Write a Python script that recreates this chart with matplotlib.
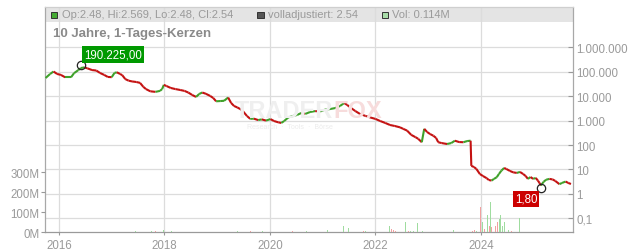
import numpy as np
import matplotlib
matplotlib.use("Agg")
import matplotlib.pyplot as plt
import matplotlib.dates as mdates
from matplotlib.collections import LineCollection
from matplotlib.patches import Rectangle
from matplotlib.ticker import FixedLocator, NullLocator, FixedFormatter

plt.rcParams['font.family'] = ['Liberation Sans', 'DejaVu Sans']

# ---------------- data ----------------
price_dates = [
    "2015-10-01", "2015-11-01", "2015-11-25", "2015-12-20", "2016-01-15", "2016-02-14",
    "2016-03-25", "2016-04-15", "2016-05-15", "2016-06-02", "2016-06-25", "2016-07-16",
    "2016-08-18", "2016-09-16", "2016-10-12", "2016-11-10", "2016-12-05", "2017-01-01",
    "2017-01-20", "2017-02-05", "2017-02-28", "2017-03-15", "2017-04-05", "2017-04-28",
    "2017-05-22", "2017-06-20", "2017-07-16", "2017-08-08", "2017-08-26", "2017-09-25",
    "2017-10-31", "2017-12-01", "2017-12-16", "2017-12-28", "2018-01-15", "2018-02-14",
    "2018-03-18", "2018-04-20", "2018-05-20", "2018-06-15", "2018-07-12", "2018-08-08",
    "2018-08-30", "2018-09-20", "2018-10-15", "2018-11-14", "2018-12-05", "2018-12-25",
    "2019-01-22", "2019-02-18", "2019-03-18", "2019-04-08", "2019-04-28", "2019-05-20",
    "2019-06-10", "2019-06-28", "2019-07-26", "2019-08-18", "2019-09-12", "2019-10-12",
    "2019-11-06", "2019-12-05", "2020-01-05", "2020-01-30", "2020-02-28", "2020-03-20",
    "2020-04-08", "2020-05-08", "2020-06-10", "2020-07-08", "2020-08-05", "2020-09-02",
    "2020-10-05", "2020-11-10", "2020-12-14", "2021-01-18", "2021-02-20", "2021-03-28",
    "2021-05-01", "2021-05-30", "2021-06-20", "2021-07-16", "2021-08-15", "2021-09-16",
    "2021-10-24", "2021-11-25", "2022-01-01", "2022-02-03", "2022-03-10", "2022-04-12",
    "2022-05-15", "2022-06-20", "2022-07-12", "2022-08-08", "2022-09-06", "2022-10-05",
    "2022-10-24", "2022-11-18", "2022-12-05", "2022-12-25", "2023-01-15", "2023-02-06",
    "2023-02-25", "2023-03-12", "2023-04-05", "2023-05-12", "2023-06-10", "2023-07-05",
    "2023-08-04", "2023-09-02", "2023-09-28", "2023-10-22", "2023-10-27", "2023-11-14",
    "2023-12-01", "2023-12-25", "2024-01-15", "2024-02-10", "2024-02-25", "2024-03-15",
    "2024-04-01", "2024-04-20", "2024-05-05", "2024-05-22", "2024-06-10", "2024-06-25",
    "2024-07-20", "2024-08-12", "2024-09-06", "2024-09-28", "2024-10-20", "2024-11-06",
    "2024-11-22", "2024-12-10", "2024-12-28", "2025-01-15", "2025-01-30", "2025-02-10",
    "2025-02-20", "2025-03-10", "2025-03-28", "2025-04-20", "2025-05-12", "2025-05-30",
    "2025-06-28", "2025-07-16", "2025-08-10", "2025-08-28", "2025-09-16",
]
price_close = [
    55300, 80700, 102000, 81000, 74000, 59000,
    59000, 87000, 117000, 142000, 150000, 138000,
    117000, 112000, 89000, 74000, 61000, 60000,
    89000, 95000, 81000, 72000, 50000, 43000,
    40000, 38000, 35000, 24000, 19500, 15800,
    15000, 16400, 19500, 29000, 26000, 21600,
    19500, 17900, 16400, 14100, 11200, 9300,
    12300, 14100, 12500, 10200, 8400, 6160,
    6300, 6450, 8800, 5250, 3960, 3470,
    2960, 2450, 1550, 1180, 1200, 1050,
    1120, 1000, 1150, 960, 850, 800,
    950, 1350, 1550, 1700, 2040, 1870,
    2240, 2450, 2350, 2820, 2960, 3250,
    3960, 5250, 4340, 3270, 2450, 1870,
    1550, 1350, 1170, 960, 800, 660,
    600, 530, 460, 390, 260, 210,
    180, 130, 460, 340, 280, 240,
    195, 130, 120, 110, 120, 150,
    132, 130, 145, 150, 14, 12.6,
    10.5, 6.5, 5.4, 4.4, 3.7, 3.5,
    4.1, 4.8, 6.5, 8.9, 11.5, 10.5,
    8.7, 7.6, 7.2, 7.9, 6.5, 5.4,
    4.1, 4.9, 4.1, 4.5, 3.5, 2.8,
    2.2, 3.1, 3.8, 4.1, 3.9, 3.4,
    2.5, 2.8, 3.2, 2.8, 2.54,
]

vol_dates = [
    "2017-06-13", "2017-09-09", "2017-10-05", "2017-10-31", "2017-11-24", "2017-12-24",
    "2018-02-17", "2019-05-22", "2019-07-19", "2019-08-03", "2019-08-18", "2019-11-10",
    "2020-06-06", "2020-07-20", "2020-08-11", "2020-09-09", "2021-02-02", "2021-05-27",
    "2021-06-28", "2021-09-16", "2021-10-08", "2021-10-23", "2022-01-05", "2022-04-10",
    "2022-04-20", "2022-05-05", "2022-05-19", "2022-06-14", "2022-07-28", "2022-08-19",
    "2022-09-02", "2022-09-20", "2022-10-19", "2022-11-06", "2022-11-21", "2023-06-25",
    "2023-11-03", "2023-11-17", "2023-12-02", "2023-12-13", "2024-01-01", "2024-01-12",
    "2024-01-26", "2024-02-06", "2024-02-17", "2024-02-28", "2024-03-06", "2024-03-17",
    "2024-04-01", "2024-04-12", "2024-04-26", "2024-05-07", "2024-05-18", "2024-05-29",
    "2024-06-13", "2024-06-24", "2024-07-09", "2024-07-31", "2024-08-18", "2024-09-24",
    "2024-10-05", "2024-11-22", "2025-06-18", "2025-08-12",
]
vol_millions = [
    8, 33, 8, 6, 8, 10,
    5, 6, 15, 6, 5, 8,
    6, 12, 6, 6, 12, 33,
    23, 8, 8, 6, 6, 33,
    15, 10, 8, 47, 50, 8,
    6, 6, 47, 8, 5, 10,
    8, 10, 8, 10, 125, 50,
    15, 20, 87, 30, 153, 25,
    230, 30, 50, 65, 87, 30,
    50, 15, 10, 8, 6, 70,
    6, 6, 6, 6,
]
vol_up = [
    1, 0, 1, 0, 1, 1,
    1, 1, 1, 0, 0, 1,
    0, 1, 1, 1, 1, 1,
    1, 0, 0, 1, 0, 1,
    0, 0, 0, 1, 1, 0,
    1, 1, 1, 0, 1, 1,
    0, 0, 1, 0, 0, 1,
    0, 0, 1, 0, 1, 0,
    1, 0, 0, 1, 1, 1,
    1, 0, 1, 0, 1, 1,
    1, 1, 0, 1,
]

price_ticks = [0.1, 1, 10, 100, 1000, 10000, 100000, 1000000]
price_tick_labels = ["0,1", "1", "10", "100", "1.000", "10.000", "100.000", "1.000.000"]
vol_ticks = [0, 100, 200, 300]
vol_tick_labels = ["0M", "100M", "200M", "300M"]
year_ticks = ["2016-01-01", "2018-01-01", "2020-01-01", "2022-01-01", "2024-01-01"]
year_labels = ["2016", "2018", "2020", "2022", "2024"]

high_date, high_value, high_label = "2016-06-02", 190225, "190.225,00"
low_date, low_value, low_label = "2025-02-18", 1.80, "1,80"

header_ohlc = "Op:2.48, Hi:2.569, Lo:2.48, Cl:2.54"
header_adj = "volladjustiert: 2.54"
header_vol = "Vol: 0.114M"
title = "10 Jahre, 1-Tages-Kerzen"

# ---------------- styling ----------------
W, H = 632, 253
L, R, T, B = 45, 572.7, 8.3, 233.3
GREEN = "#3fa12a"
RED = "#c41212"
VGREEN = "#9fdc9f"
VRED = "#f2a0a0"
GRID = "#dcdcdc"
TXT = "#9a9a9a"

def dn(s):
    return mdates.date2num(np.datetime64(s, "D").astype("O"))

fig = plt.figure(figsize=(W / 100, H / 100), dpi=100)
ax_p = fig.add_axes([L / W, 1 - B / H, (R - L) / W, (B - T) / H])
ax_v = ax_p.twinx()
ax_v.set_zorder(ax_p.get_zorder() + 1)
ax_v.patch.set_visible(False)

x0, x1 = dn("2015-09-27"), dn("2025-09-28")
ax_p.set_xlim(x0, x1)

# price axis (log), placed on right
ax_p.set_yscale("log")
ax_p.set_ylim(10 ** -1.573, 10 ** 7.637)
ax_p.yaxis.set_major_locator(FixedLocator(price_ticks))
ax_p.yaxis.set_major_formatter(FixedFormatter(price_tick_labels))
ax_p.yaxis.set_minor_locator(NullLocator())
ax_p.yaxis.tick_right()
ax_p.tick_params(axis="y", which="major", direction="in", length=3.5, width=0.8,
                 color="#999999", labelsize=8.3, labelcolor=TXT, pad=2.5)

# x axis
xt = [dn(s) for s in year_ticks]
ax_p.xaxis.set_major_locator(FixedLocator(xt))
ax_p.xaxis.set_major_formatter(FixedFormatter(year_labels))
ax_p.xaxis.set_minor_locator(NullLocator())
ax_p.tick_params(axis="x", direction="out", length=2, width=0.8, color="#999999",
                 labelsize=8.3, labelcolor=TXT, pad=3)

ax_p.set_axisbelow(True)
ax_p.grid(True, which="major", color=GRID, lw=0.9)

for side, col in [("left", "#a8a8a8"), ("right", "#a8a8a8"), ("bottom", "#9a9a9a"), ("top", "#cfcfcf")]:
    ax_p.spines[side].set_color(col)
    ax_p.spines[side].set_linewidth(0.9)
for sp in ax_v.spines.values():
    sp.set_visible(False)

# header band (under gridlines)
ax_p.add_patch(Rectangle((0, (B - 22.7) / (B - T)), 1, (22.7 - T) / (B - T),
                         transform=ax_p.transAxes, facecolor="#e4e4e4",
                         edgecolor="none", zorder=0.2))

# volume axis on left
ax_v.set_ylim(0, 1125)
ax_v.yaxis.tick_left()
ax_v.yaxis.set_major_locator(FixedLocator(vol_ticks))
ax_v.yaxis.set_major_formatter(FixedFormatter(vol_tick_labels))
ax_v.tick_params(axis="y", direction="out", length=3, width=0.8, color="#999999",
                 labelsize=8.3, labelcolor=TXT, pad=1)
vx = [dn(s) for s in vol_dates]
vcol = [VGREEN if u else VRED for u in vol_up]
ax_v.bar(vx, vol_millions, width=5, color=vcol, edgecolor="none", zorder=1)

# price line, coloured by candle direction
px = [dn(s) for s in price_dates]
segs, cols = [], []
for i in range(1, len(px)):
    segs.append([(px[i - 1], price_close[i - 1]), (px[i], price_close[i])])
    cols.append(GREEN if price_close[i] >= price_close[i - 1] else RED)
ax_p.add_collection(LineCollection(segs, colors=cols, linewidths=1.5, zorder=3,
                                   capstyle="butt"))

# high / low markers
for d, v, lab, fc, off in [(high_date, high_value, high_label, "#009900", (23, 7.5)),
                           (low_date, low_value, low_label, "#cc0000", (-10.5, -8))]:
    ax_p.plot([dn(d)], [v], "o", mfc="none", mec="#222222", ms=6, mew=0.9, zorder=4)
    ax_p.annotate(lab, xy=(dn(d), v), xytext=off, textcoords="offset points",
                  ha="center", va="center", color="white", fontsize=8.3, zorder=5,
                  bbox=dict(boxstyle="square,pad=0.18", fc=fc, ec="none"))

# watermark
fig.text(333 / W, 1 - 112 / H, "TRADER", ha="right", va="center", fontsize=17,
         fontweight="bold", color="#efefef", zorder=0.5)
fig.text(333 / W, 1 - 112 / H, "FOX", ha="left", va="center", fontsize=17,
         fontweight="bold", color="#f7dcdc", zorder=0.5)
fig.text(290 / W, 1 - 128 / H, "Research  ·  Tools  ·  Börse", ha="center", va="center",
         fontsize=5, color="#ececec")

# header contents
hy = 1 - 15.5 / H
def square(x, fc):
    fig.patches.append(Rectangle((x / W, 1 - 19 / H), 6.5 / W, 6.5 / H,
                                 transform=fig.transFigure, facecolor=fc,
                                 edgecolor="#333333", lw=0.7, figure=fig))
square(50.5, "#44aa33")
fig.text(61.5 / W, hy, header_ohlc, ha="left", va="center", fontsize=8, color=TXT)
square(257, "#555555")
fig.text(267.5 / W, hy, header_adj, ha="left", va="center", fontsize=8, color=TXT)
square(381.5, "#a8dca8")
fig.text(392 / W, hy, header_vol, ha="left", va="center", fontsize=8, color=TXT)

fig.text(53 / W, 1 - 33.5 / H, title, ha="left", va="center", fontsize=9.5,
         fontweight="bold", color="#8a8a8a")

fig.savefig("out.png", dpi=100)
